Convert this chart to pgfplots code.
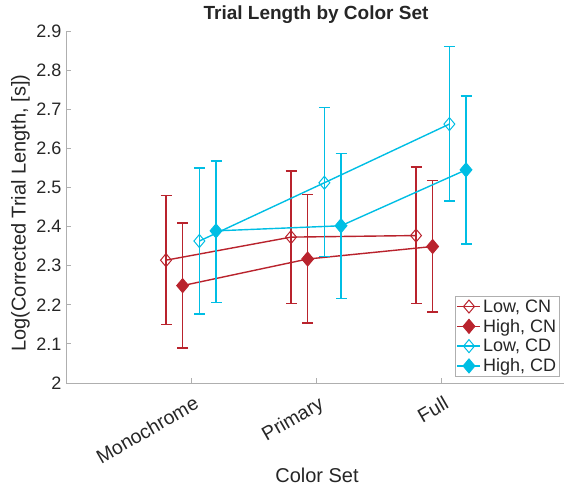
\documentclass[border=0pt]{standalone}
\usepackage{pgfplots}
\pgfplotsset{compat=1.18}
\usepackage{pgfplotstable}
\usepackage{fontspec}
\setmainfont{Liberation Sans}
\definecolor{cnred}{RGB}{185,35,45}
\definecolor{cdcyan}{RGB}{0,190,228}
\definecolor{txtgray}{RGB}{38,38,38}
\definecolor{linegray}{RGB}{175,175,175}

\pgfplotstableread{
x y hi lo
0.8 2.314 2.480 2.149
1.8 2.373 2.542 2.204
2.8 2.377 2.552 2.204
}\lowcn
\pgfplotstableread{
x y hi lo
0.933 2.249 2.409 2.089
1.933 2.317 2.482 2.153
2.933 2.349 2.517 2.182
}\highcn
\pgfplotstableread{
x y hi lo
1.067 2.363 2.550 2.176
2.067 2.512 2.705 2.323
3.067 2.662 2.860 2.465
}\lowcd
\pgfplotstableread{
x y hi lo
1.2 2.389 2.568 2.206
2.2 2.402 2.587 2.216
3.2 2.545 2.734 2.355
}\highcd

\begin{document}
\begin{tikzpicture}
\path[use as bounding box] (0,0) rectangle (564pt,486pt);
\begin{axis}[
  at={(66pt,103pt)}, anchor=south west,
  scale only axis, width=500pt, height=352pt,
  xmin=0, xmax=4, ymin=2, ymax=2.9,
  axis x line*=bottom, axis y line*=left,
  axis line style={linegray, line width=0.8pt},
  every tick/.style={linegray, line width=0.8pt},
  tick align=inside, major tick length=5pt,
  xtick={1,2,3}, xticklabels={Monochrome,Primary,Full},
  ytick={2,2.1,2.2,2.3,2.4,2.5,2.6,2.7,2.8,2.9},
  /pgf/number format/assume math mode=true,
  /pgf/number format/fixed, /pgf/number format/precision=1,
  yticklabel style={font=\fontsize{18}{21}\selectfont, text=txtgray, xshift=-1pt},
  xticklabel style={font=\fontsize{19.5}{22}\selectfont, text=txtgray, rotate=30, anchor=north east, xshift=-1pt, yshift=-8pt},
  title={Trial Length by Color Set},
  every axis title/.style={font=\fontsize{19}{22}\selectfont\bfseries, text=txtgray, at={(axis description cs:0.5,1.034)}, anchor=base},
  xlabel={Color Set},
  xlabel style={font=\fontsize{20}{23}\selectfont, text=txtgray, at={(axis description cs:0.502,-0.263)}, anchor=center},
  ylabel={Log(Corrected Trial Length, [s])},
  ylabel style={font=\fontsize{20}{23}\selectfont, text=txtgray, at={(axis description cs:-0.091,0.483)}, anchor=center, rotate=0},
  legend style={at={(axis description cs:0.988,0.017)}, anchor=south east, draw=linegray, line width=0.6pt, font=\fontsize{18}{20}\selectfont, text=txtgray, inner sep=1.5pt, row sep=1.5pt, cells={anchor=west}},
  legend image code/.code={\draw[mark repeat=2, mark phase=2] plot coordinates {(0pt,0pt) (11.5pt,0pt) (23pt,0pt)};},
  error bars/error bar style={line width=1.4pt, solid},
  error bars/error mark options={rotate=90, mark size=5.5pt, line width=1.4pt},
  clip=false,
]
\addplot[cnred, line width=1.4pt, mark=diamond, mark size=6.5pt, mark options={fill=white, xscale=1.12, line width=1pt},
  error bars/.cd, y dir=both, y explicit]
  table[x=x, y=y, y error plus expr=\thisrow{hi}-\thisrow{y}, y error minus expr=\thisrow{y}-\thisrow{lo}] {\lowcn};
\addlegendentry{Low, CN}
\addplot[cnred, line width=1.4pt, mark=diamond*, mark size=7pt, mark options={fill=cnred, xscale=1.12, line width=1pt},
  error bars/.cd, y dir=both, y explicit]
  table[x=x, y=y, y error plus expr=\thisrow{hi}-\thisrow{y}, y error minus expr=\thisrow{y}-\thisrow{lo}] {\highcn};
\addlegendentry{High, CN}
\addplot[cdcyan, line width=1.4pt, mark=diamond, mark size=6.5pt, mark options={fill=white, xscale=1.12, line width=1pt},
  error bars/.cd, y dir=both, y explicit]
  table[x=x, y=y, y error plus expr=\thisrow{hi}-\thisrow{y}, y error minus expr=\thisrow{y}-\thisrow{lo}] {\lowcd};
\addlegendentry{Low, CD}
\addplot[cdcyan, line width=1.4pt, mark=diamond*, mark size=7pt, mark options={fill=cdcyan, xscale=1.12, line width=1pt},
  error bars/.cd, y dir=both, y explicit]
  table[x=x, y=y, y error plus expr=\thisrow{hi}-\thisrow{y}, y error minus expr=\thisrow{y}-\thisrow{lo}] {\highcd};
\addlegendentry{High, CD}
\end{axis}
\end{tikzpicture}
\end{document}
